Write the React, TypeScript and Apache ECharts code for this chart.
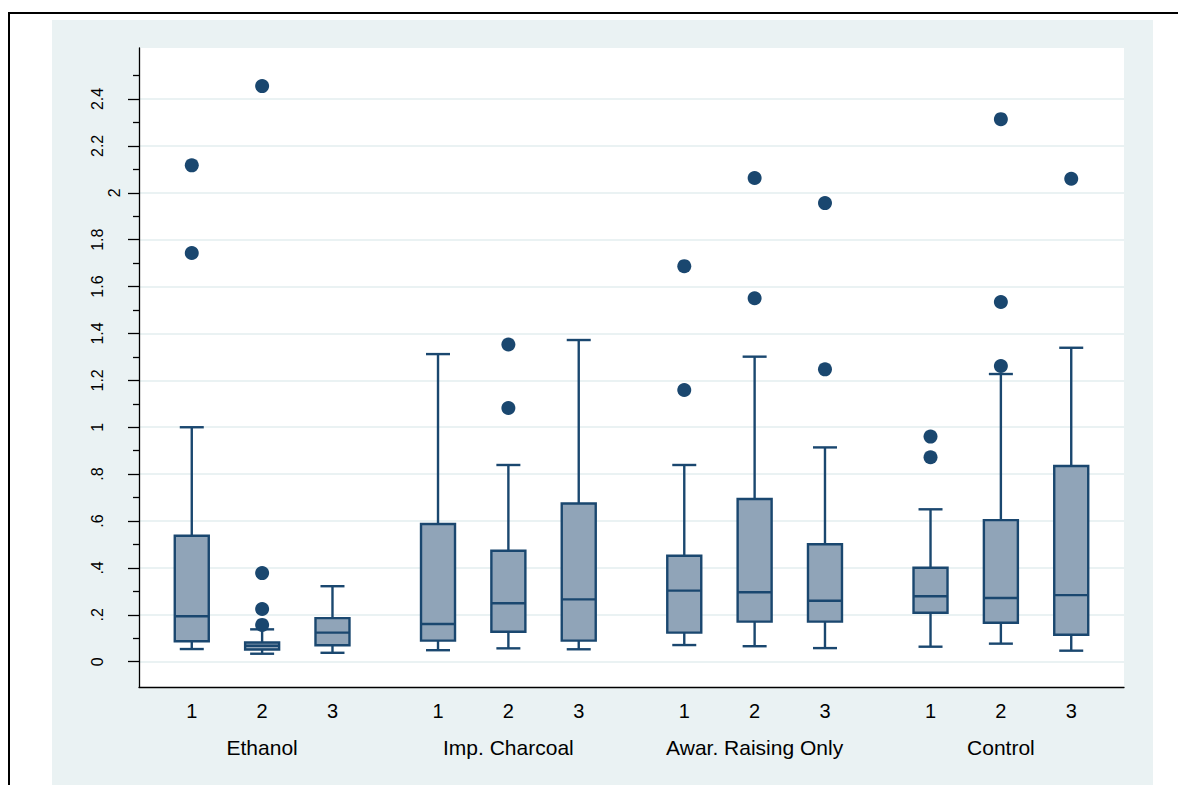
import React, { useEffect, useRef } from "react";
import * as echarts from "echarts";

// ---- data ----
const groups = ["Ethanol", "Imp. Charcoal", "Awar. Raising Only", "Control"];
const subgroups = ["1", "2", "3"];

// per box, in order Ethanol 1..3, Imp. Charcoal 1..3, Awar. 1..3, Control 1..3
const lowerWhisker = [0.054, 0.034, 0.038, 0.049, 0.057, 0.053, 0.071, 0.066, 0.058, 0.064, 0.077, 0.047];
const quartile1 = [0.087, 0.052, 0.070, 0.090, 0.128, 0.090, 0.124, 0.171, 0.171, 0.209, 0.166, 0.115];
const medians = [0.194, 0.068, 0.124, 0.161, 0.249, 0.266, 0.303, 0.296, 0.260, 0.279, 0.272, 0.284];
const quartile3 = [0.537, 0.082, 0.186, 0.587, 0.473, 0.675, 0.452, 0.694, 0.501, 0.401, 0.604, 0.835];
const upperWhisker = [1.0, 0.138, 0.322, 1.312, 0.839, 1.372, 0.839, 1.301, 0.914, 0.650, 1.227, 1.339];
const outliers = [
  [1.743, 2.117],
  [0.157, 0.225, 0.378, 2.455],
  [],
  [],
  [1.082, 1.353],
  [],
  [1.159, 1.687],
  [1.550, 2.063],
  [1.247, 1.956],
  [0.872, 0.960],
  [1.261, 1.534, 2.314],
  [2.060],
];

const yMajorTicks = [0, 0.2, 0.4, 0.6, 0.8, 1, 1.2, 1.4, 1.6, 1.8, 2, 2.2, 2.4];
const yMinorTicks = [0.1, 0.3, 0.5, 0.7, 0.9, 1.1, 1.3, 1.5, 1.7, 1.9, 2.1, 2.3, 2.5];

// ---- layout / style ----
const NAVY = "#1a476f";
const BOX_FILL = "#90a4b8";
const BG = "#eaf2f3";
const FONT = "Liberation Sans, Arial, sans-serif";
const posOf = (g: number, s: number) => 0.75 + g * 3.5 + s;

const fmtY = (v: number) => {
  const r = Math.round(v * 10) / 10;
  if (r === 0) return "0";
  let s = String(r);
  if (s.startsWith("0.")) s = s.slice(1);
  return s;
};

export default function App() {
  const ref = useRef<HTMLDivElement>(null);

  useEffect(() => {
    if (!ref.current) return;
    const chart = echarts.init(ref.current, null, { renderer: "svg" });

    const boxData: number[][] = [];
    const outlierData: number[][] = [];
    groups.forEach((_, g) => {
      subgroups.forEach((_, s) => {
        const i = g * subgroups.length + s;
        const p = posOf(g, s);
        boxData.push([p, lowerWhisker[i], quartile1[i], medians[i], quartile3[i], upperWhisker[i]]);
        outliers[i].forEach((v) => outlierData.push([p, v]));
      });
    });

    const subLabelAt = (v: number) => {
      for (let g = 0; g < groups.length; g++)
        for (let s = 0; s < subgroups.length; s++)
          if (Math.abs(posOf(g, s) - v) < 1e-6) return subgroups[s];
      return "";
    };
    const groupLabelAt = (v: number) => {
      for (let g = 0; g < groups.length; g++)
        if (Math.abs(posOf(g, 1) - v) < 1e-6) return groups[g];
      return "";
    };

    const yMin = -0.1079;
    const yMax = 2.6175;

    const option: any = {
      animation: false,
      backgroundColor: "#ffffff",
      textStyle: { fontFamily: FONT },
      graphic: [
        {
          type: "rect",
          z: -100,
          shape: { x: 52, y: 20, width: 1101, height: 765 },
          style: { fill: BG },
          silent: true,
        },
        {
          type: "line",
          z: 100,
          shape: { x1: 9, y1: 13, x2: 1178, y2: 13 },
          style: { stroke: "#000", lineWidth: 2 },
        },
        {
          type: "line",
          z: 100,
          shape: { x1: 9, y1: 12, x2: 9, y2: 785 },
          style: { stroke: "#000", lineWidth: 2 },
        },
      ],
      grid: {
        left: 139,
        top: 48,
        width: 985,
        height: 639,
        show: true,
        backgroundColor: "#ffffff",
        borderWidth: 0,
      },
      xAxis: [
        {
          type: "value",
          min: 0,
          max: 14,
          interval: 0.25,
          axisLine: { show: true, onZero: false, lineStyle: { color: "#000", width: 1.3 } },
          axisTick: { show: false },
          splitLine: { show: false },
          axisLabel: {
            margin: 14,
            fontSize: 20,
            color: "#000",
            fontFamily: FONT,
            formatter: (v: number) => subLabelAt(v),
          },
        },
        {
          type: "value",
          min: 0,
          max: 14,
          interval: 0.25,
          position: "bottom",
          axisLine: { show: false, onZero: false },
          axisTick: { show: false },
          splitLine: { show: false },
          axisLabel: {
            margin: 50,
            fontSize: 21,
            color: "#000",
            fontFamily: FONT,
            formatter: (v: number) => groupLabelAt(v),
          },
        },
      ],
      yAxis: [
        {
          type: "value",
          min: yMin,
          max: yMax,
          position: "left",
          axisLine: { show: true, onZero: false, lineStyle: { color: "#000", width: 1.3 } },
          axisTick: {
            show: true,
            length: 11,
            customValues: yMajorTicks,
            lineStyle: { color: "#000", width: 1.3 },
          },
          splitLine: { show: true, lineStyle: { color: BG, width: 2 } },
          axisLabel: {
            customValues: yMajorTicks.filter((v) => v !== 2),
            rotate: 90,
            margin: 34,
            fontSize: 16,
            color: "#000",
            fontFamily: FONT,
            formatter: (v: number) => fmtY(v),
          },
        },
        {
          type: "value",
          min: yMin,
          max: yMax,
          position: "left",
          axisLine: { show: false, onZero: false },
          axisTick: {
            show: true,
            length: 6,
            customValues: yMinorTicks,
            lineStyle: { color: "#000", width: 1.3 },
          },
          splitLine: { show: false },
          axisLabel: {
            customValues: [2],
            rotate: 90,
            margin: 17,
            fontSize: 16,
            color: "#000",
            fontFamily: FONT,
            formatter: (v: number) => fmtY(v),
          },
        },
      ],
      series: [
        {
          type: "custom",
          xAxisIndex: 0,
          yAxisIndex: 0,
          data: boxData,
          encode: { x: 0, y: [1, 2, 3, 4, 5] },
          z: 3,
          renderItem: (_params: any, api: any) => {
            const x = api.value(0);
            const cx = api.coord([x, 0])[0];
            const yLo = api.coord([x, api.value(1)])[1];
            const yQ1 = api.coord([x, api.value(2)])[1];
            const yMed = api.coord([x, api.value(3)])[1];
            const yQ3 = api.coord([x, api.value(4)])[1];
            const yHi = api.coord([x, api.value(5)])[1];
            const hb = 17;
            const hc = 12;
            const ls = { stroke: NAVY, lineWidth: 2.4, fill: null };
            return {
              type: "group",
              children: [
                { type: "line", shape: { x1: cx, y1: yLo, x2: cx, y2: yQ1 }, style: ls },
                { type: "line", shape: { x1: cx, y1: yQ3, x2: cx, y2: yHi }, style: ls },
                { type: "line", shape: { x1: cx - hc, y1: yLo, x2: cx + hc, y2: yLo }, style: ls },
                { type: "line", shape: { x1: cx - hc, y1: yHi, x2: cx + hc, y2: yHi }, style: ls },
                {
                  type: "rect",
                  shape: { x: cx - hb, y: yQ3, width: hb * 2, height: yQ1 - yQ3 },
                  style: { fill: BOX_FILL, stroke: NAVY, lineWidth: 2.4 },
                },
                { type: "line", shape: { x1: cx - hb, y1: yMed, x2: cx + hb, y2: yMed }, style: ls },
              ],
            };
          },
        },
        {
          type: "scatter",
          xAxisIndex: 0,
          yAxisIndex: 0,
          data: outlierData,
          symbol: "circle",
          symbolSize: 14,
          itemStyle: { color: NAVY, opacity: 1 },
          z: 4,
        },
      ],
    };

    chart.setOption(option);
    return () => chart.dispose();
  }, []);

  return (
    <div
      ref={ref}
      style={{ position: "fixed", left: 0, top: 0, width: 1178, height: 785, background: "#fff" }}
    />
  );
}
